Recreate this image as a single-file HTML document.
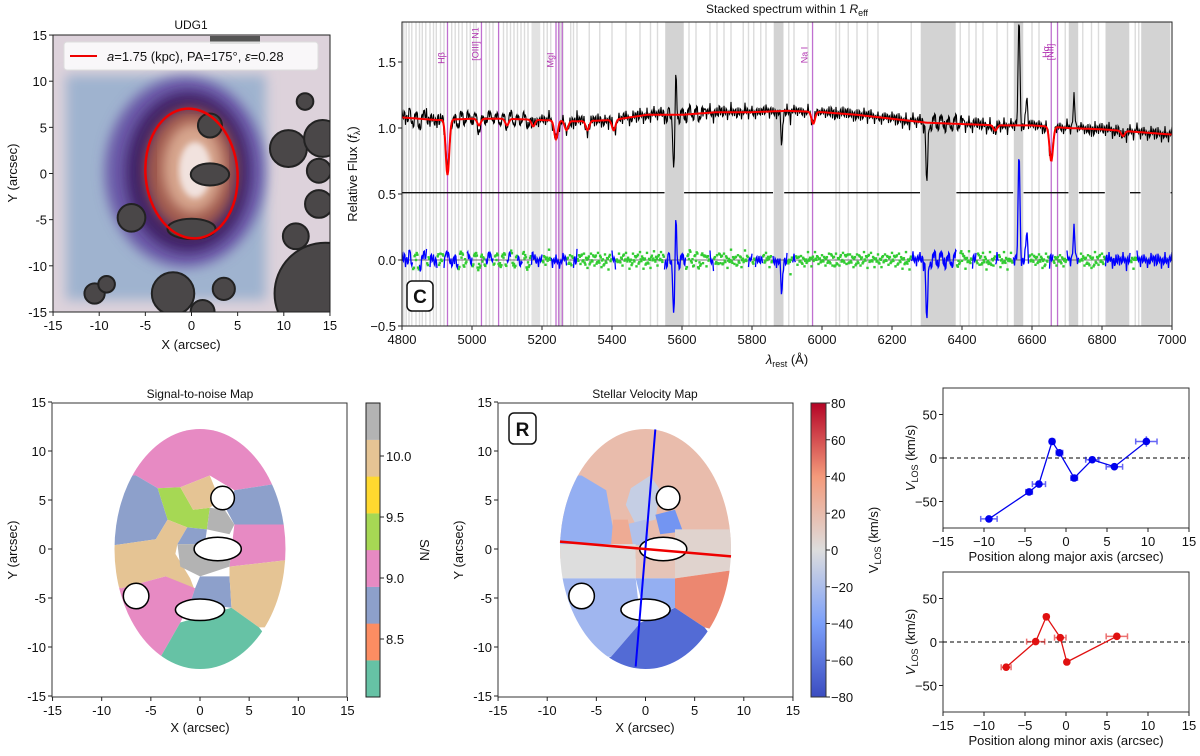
<!DOCTYPE html>
<html><head><meta charset="utf-8"><style>
html,body{margin:0;padding:0;background:#fff;}
svg{display:block;font-family:"Liberation Sans","DejaVu Sans",sans-serif;}
.t{font-size:13px;fill:#111}
.s{font-size:12px;fill:#111}
</style></head><body>
<svg id="fig" width="1200" height="756" viewBox="0 0 1200 756" xmlns="http://www.w3.org/2000/svg">
<defs>
<filter id="blur3"><feGaussianBlur stdDeviation="3"/></filter>
<filter id="blur6"><feGaussianBlur stdDeviation="6"/></filter>
<clipPath id="imgclip"><rect x="53" y="35" width="277" height="277"/></clipPath>
<clipPath id="snclip"><ellipse cx="200" cy="549" rx="85.5" ry="120"/></clipPath>
<clipPath id="vclip"><ellipse cx="645.5" cy="549" rx="85.5" ry="120"/></clipPath>
<clipPath id="specclip"><rect x="402" y="22" width="770" height="304"/></clipPath>
<linearGradient id="cw" x1="0" y1="1" x2="0" y2="0">
<stop offset="0" stop-color="#3b4cc0"/><stop offset="0.25" stop-color="#7b9ff9"/><stop offset="0.5" stop-color="#dddddd"/><stop offset="0.75" stop-color="#f49a7b"/><stop offset="1" stop-color="#b40426"/>
</linearGradient>
</defs>

<g id="gImg" clip-path="url(#imgclip)">
<rect x="53" y="35" width="277" height="277" fill="#ddd2db"/>
<rect x="66" y="75" width="200" height="225" fill="#9fb3cf" filter="url(#blur6)"/>
<ellipse cx="185" cy="172" rx="80" ry="95" fill="#6a5aa8" filter="url(#blur6)"/>
<ellipse cx="188" cy="172" rx="62" ry="80" fill="#3f2466" filter="url(#blur6)"/>
<ellipse cx="191" cy="170" rx="46" ry="62" fill="#a05a4e" filter="url(#blur6)"/>
<ellipse cx="193" cy="168" rx="30" ry="45" fill="#d7a68e" filter="url(#blur6)"/>
<ellipse cx="195" cy="170" rx="16" ry="28" fill="#f1e2de" filter="url(#blur3)"/>
<rect x="210" y="36" width="50" height="8" fill="#555"/>
<g id="gBlobs"></g>
</g>
<rect x="53" y="35" width="277" height="277" fill="none" stroke="#222" stroke-width="1"/>
<ellipse cx="191.5" cy="173.5" rx="46" ry="65" fill="none" stroke="#e00" stroke-width="2.5" transform="rotate(-5 191.5 173.5)"/>
<g>
<rect x="64" y="42" width="254" height="28" rx="3" fill="#fff" fill-opacity="0.82" stroke="#ddd"/>
<line x1="70" y1="56" x2="97" y2="56" stroke="#e00" stroke-width="2"/>
<text x="107" y="61" class="t" font-size="13"><tspan font-style="italic">a</tspan>=1.75 (kpc), PA=175°, <tspan font-style="italic">ε</tspan>=0.28</text>
</g>
<text x="191" y="29" text-anchor="middle" class="s">UDG1</text>
<g id="gImgAxes"></g>
<text x="191" y="349" text-anchor="middle" class="t">X (arcsec)</text>
<text transform="translate(17 173) rotate(-90)" text-anchor="middle" class="t">Y (arcsec)</text>

<g>
<g id="gSpecBands" clip-path="url(#specclip)"></g>
<g id="gSpecLines" clip-path="url(#specclip)"></g>
<rect x="402" y="22" width="770" height="304" fill="none" stroke="#222"/>
<g id="gSpecAxes"></g>
</g>
<text x="787" y="13" text-anchor="middle" class="s">Stacked spectrum within 1 <tspan font-style="italic">R</tspan><tspan font-size="9" dy="3">eff</tspan></text>
<text x="787" y="364" text-anchor="middle" class="t"><tspan font-style="italic">λ</tspan><tspan font-size="9" dy="3">rest</tspan><tspan dy="-3"> (Å)</tspan></text>
<text transform="translate(357 174) rotate(-90)" text-anchor="middle" class="t">Relative Flux (<tspan font-style="italic">f</tspan><tspan font-size="9" dy="3">λ</tspan><tspan dy="-3">)</tspan></text>
<g>
<rect x="407" y="281" width="26" height="30" rx="5" fill="#fff" stroke="#111" stroke-width="1.5"/>
<text x="420" y="303" text-anchor="middle" font-size="19" font-weight="bold" fill="#111">C</text>
</g>

<g id="gSnMap" clip-path="url(#snclip)"></g>
<g id="gSnHoles"></g>
<rect x="52" y="403" width="295" height="294" fill="none" stroke="#333"/>
<g id="gSnAxes"></g>
<text x="200" y="398" text-anchor="middle" class="s">Signal-to-noise Map</text>
<text x="200" y="732" text-anchor="middle" class="t">X (arcsec)</text>
<text transform="translate(17 550) rotate(-90)" text-anchor="middle" class="t">Y (arcsec)</text>
<g id="gSnBar"></g>
<text transform="translate(420 550) rotate(90)" text-anchor="middle" class="t">S/N</text>

<g id="gVMap" clip-path="url(#vclip)"></g>
<g id="gVHoles"></g>
<rect x="498" y="403" width="295" height="294" fill="none" stroke="#333"/>
<g id="gVAxes"></g>
<text x="645" y="398" text-anchor="middle" class="s">Stellar Velocity Map</text>
<text x="645" y="732" text-anchor="middle" class="t">X (arcsec)</text>
<text transform="translate(463 550) rotate(-90)" text-anchor="middle" class="t">Y (arcsec)</text>
<g>
<rect x="509" y="413" width="27" height="31" rx="5" fill="#fff" stroke="#111" stroke-width="1.5"/>
<text x="522.5" y="436" text-anchor="middle" font-size="19" font-weight="bold" fill="#111">R</text>
</g>
<rect x="811" y="403" width="15" height="294" fill="url(#cw)" stroke="#333"/>
<g id="gVBar"></g>
<text transform="translate(878 540) rotate(-90)" text-anchor="middle" class="t">V<tspan font-size="9" dy="3">LOS</tspan><tspan dy="-3"> (km/s)</tspan></text>

<g id="gProf"></g>
<text x="1066" y="561" text-anchor="middle" class="t">Position along major axis (arcsec)</text>
<text x="1066" y="745" text-anchor="middle" class="t">Position along minor axis (arcsec)</text>
<text transform="translate(915 458) rotate(-90)" text-anchor="middle" class="t"><tspan font-style="italic">V</tspan><tspan font-size="9" dy="3">LOS</tspan><tspan dy="-3"> (km/s)</tspan></text>
<text transform="translate(915 642) rotate(-90)" text-anchor="middle" class="t"><tspan font-style="italic">V</tspan><tspan font-size="9" dy="3">LOS</tspan><tspan dy="-3"> (km/s)</tspan></text>
</svg>
<script>
var contW = [4800,4900,5000,5100,5200,5300,5400,5500,5600,5700,5800,5900,6000,6100,6200,6300,6400,6500,6600,6700,6800,6900,7000];
var contF = [1.08,1.06,1.07,1.07,1.06,1.05,1.06,1.10,1.10,1.12,1.12,1.13,1.12,1.10,1.07,1.04,1.03,1.02,1.02,1.00,0.99,0.97,0.95];
var absW = [4930,5020,5100,5175,5240,5270,5330,5405,5975,6495,6655,6860];
var absD = [0.42,0.05,0.05,0.05,0.14,0.07,0.07,0.08,0.09,0.04,0.26,0.04];
var resid = [5,-3,8,-6,2,-9,4,7,-4,3,-7,6,-2,9,-5,3,-8,5,-3,6,-4,
7,-9,3,-5,8,-2,4,-6,5,-3,9,-7,2,-4,6,-8,3,5,-6,4,
-3,7,-5,2,-8,6,-4,3,-6,8,-2,5,-7,4,-3,6,-5,2,-4,7,
-6,3,-2,5,-7,4,-3,6,-5,2,-4,7,-3,5,-6,3,-2,4,-5,3,
-4,6,-3,2,-5,4,-2,5,-6,3,-2,4,-5,6,-3,2,-4,5,-3,4,
-5,3,-2,6,-4,3,-7,5,-3,4,-9,6,-3,2,-5,4,-3,5,-2,3,
-4,5,-3,2,-4,6,-2,3,-5,4,-3,5,-2,4,-3,2,-4,3,-2,5,
-3,4,-5,3,-6,7,-4,5,-8,6,-5,4,-3,6,-4,3,-6,5,-3,7,
-5,4,-3,6,-4,5,-7,3,-5,6,-4,3,-6,5,-3,4,-8,6,-4,5,
-3,4,-6,3,-2,5,-4,3,-5,6,-3,4,-2,5,-4,3,-6,4,-3,5,
-5,6,-7,4,-3,5,-6,4,-5,7,-4,3,-6,5,-3,4,-5,3,-4,6,-2];
var spikeW = [5577,5582,5885,6300,6563,6585,6720];
var spikeA = [-0.5,0.3,-0.28,-0.5,0.85,0.2,0.22];
var darkBands = [[5552,5605],[5862,5890],[6282,6382],[6548,6575],[6705,6732],[6810,6878],[6912,6995]];
var lightBands = [[5170,5195],[5245,5262]];
var thinLines = [4805,4812,4820,4828,4840,4850,4858,4868,4880,4890,4898,4910,4920,4942,4952,4962,4972,4985,4995,5005,5012,5040,5050,5060,5090,5100,5110,5120,5130,5140,5150,5160,5205,5215,5225,5282,5290,5300,5335,5365,5400,5440,5480,5510,5530,5620,5640,5680,5700,5720,5740,5775,5790,5805,5825,5840,5905,5920,5960,6040,6050,6075,6100,6130,6160,6255,6395,6420,6440,6460,6500,6530,6600,6620,6695,6745,6770,6790,6895,6905];
var magLines = [4930,5027,5076,5240,5248,5258,5973,6655,6673];
var magLabels = [["Hβ",4922,58],["[OIII] N1",5018,44],["MgI",5233,60],["Na I",5958,55],["Hα",6648,52],["[NII]",6661,52]];
var maskRanges = [[4800,4830],[4850,4870],[4880,4900],[4920,4960],[4985,5000],[5040,5060],[5100,5110],[5130,5145],[5170,5200],[5225,5270],[5290,5300],[5400,5410],[5550,5610],[5680,5690],[5790,5800],[5810,5830],[5860,5900],[5915,5925],[6255,6385],[6430,6440],[6495,6505],[6545,6590],[6650,6660],[6700,6735],[6810,6880],[6900,7000]];
var specXTicks = [4800,5000,5200,5400,5600,5800,6000,6200,6400,6600,6800,7000];
var specYTicks = [-0.5,0,0.5,1.0,1.5];
var specYLabels = ["−0.5","0.0","0.5","1.0","1.5"];

var snColors = ["#66c2a5","#fc8d62","#8da0cb","#e78ac3","#a6d854","#ffd92f","#e5c494","#b3b3b3"];
var snTicks = [8.5,9.0,9.5,10.0];
var snBins = [
 {v:3,p:[[-10,13],[10,13],[10,7],[3.5,6],[1,7.5],[-2,6.3],[-4.3,6.2],[-6.5,7.5],[-10,7.5]]},
 {v:2,p:[[-10,7.5],[-6.5,7.5],[-4.3,6.2],[-3.3,3],[-4.5,1],[-10,0.2]]},
 {v:4,p:[[-4.3,6.2],[-2,6.3],[-0.7,4],[1,4.2],[0.7,2],[-1.3,2.2],[-3.3,3]]},
 {v:6,p:[[-2,6.3],[1,7.5],[2,5],[1,4.2],[-0.7,4]]},
 {v:2,p:[[3.5,6],[10,7],[10,2.5],[3.5,2.5],[2.7,4]]},
 {v:7,p:[[1,4.2],[2.5,4],[3.5,2.5],[3,1.5],[0.7,2]]},
 {v:3,p:[[3.5,2.5],[10,2.5],[10,-1],[3,-1.8],[3.2,0]]},
 {v:6,p:[[-10,0.2],[-4.5,1],[-3.3,3],[-1.3,2.2],[-2.3,0.5],[-2.5,-0.5],[-1,-3],[-0.5,-4.3],[-3.5,-2.8],[-8,-4],[-10,-3.5]]},
 {v:2,p:[[-1.3,2.2],[0.7,2],[0.5,0.5],[-2.3,0.5]]},
 {v:7,p:[[-2.3,0.5],[0.5,0.5],[3.2,0],[3,-1.8],[0,-2.8],[-2,-1.8]]},
 {v:2,p:[[0,-2.8],[3,-2.8],[3.2,-6],[-1,-5.5],[-0.5,-4]]},
 {v:6,p:[[3,-1.8],[10,-1],[10,-8],[6,-8],[3.2,-6],[3,-2.8]]},
 {v:3,p:[[-10,-3.5],[-8,-4],[-3.5,-2.8],[-0.5,-4],[-1,-5.5],[-2,-7.5],[-4,-11],[-10,-11]]},
 {v:0,p:[[-4,-11],[-2,-7.5],[3.2,-6],[6,-8],[10,-13],[-10,-13]]}
];
var velBins = [
 {v:20,p:[[-10,13],[10,13],[10,-1],[-10,-1]]},
 {v:-30,p:[[-10,7.5],[-6.5,7.5],[-4,6],[-3.3,2],[-3.5,0.5],[-10,0.5]]},
 {v:-10,p:[[-1.5,6.2],[0.5,7.5],[1.5,6],[1,3],[-1,2.5],[-2,4.5]]},
 {v:-18,p:[[-2,2.5],[0,3],[0.5,0.5],[-1.5,0.3]]},
 {v:30,p:[[-3.3,3],[-1.8,3],[-1.3,0.5],[-3.5,0.5]]},
 {v:-45,p:[[1,3.5],[3,4],[3.8,1.8],[1.5,1.5]]},
 {v:6,p:[[3,2],[10,2],[10,-2],[3,-3]]},
 {v:0,p:[[-10,0.5],[-1,0.5],[-1,-3],[-10,-3]]},
 {v:15,p:[[-1,0.4],[3,0.2],[3,-3],[-1,-3]]},
 {v:-25,p:[[-10,-3],[-1,-3],[-0.5,-7.5],[-3.5,-11],[-10,-11]]},
 {v:-30,p:[[-1,-3],[3,-3],[3,-6],[0,-7]]},
 {v:45,p:[[3,-3],[10,-2],[10,-9],[6,-8],[3,-6]]},
 {v:-65,p:[[-3.5,-11],[-0.5,-7.5],[3,-6],[6,-8],[10,-13],[-10,-13]]}
];
var holeX = [2.3,1.8,-6.5,0];
var holeY = [5.2,0,-4.8,-6.2];
var holeRX = [1.2,2.4,1.3,2.5];
var holeRY = [1.2,1.2,1.3,1.1];
var velTicks = [-80,-60,-40,-20,0,20,40,60,80];
var velLabels = ["−80","−60","−40","−20","0","20","40","60","80"];
var mapTicks = [-15,-10,-5,0,5,10,15];
var mapTickLabels = ["-15","-10","-5","0","5","10","15"];

var majX = [-9.4,-4.5,-3.3,-1.7,-0.8,1.0,3.2,5.9,9.8];
var majV = [-70,-39,-30,19,6,-23,-2,-10,19];
var majXErr = [1.0,0.4,0.8,0.3,0.4,0.4,0.8,1.0,1.3];
var majVErr = [2,2,2,2,2,3,2,2,6];
var minX = [-7.3,-3.7,-2.4,-0.7,0.1,6.2];
var minV = [-29,0.5,29,5,-23,6.5];
var minXErr = [0.6,1.1,0.3,0.7,0.2,1.3];
var minVErr = [2,2,4,2,2,2];
var profXTicks = [-15,-10,-5,0,5,10,15];
var profXLabels = ["−15","−10","−5","0","5","10","15"];
var profYTicks = [-50,0,50];
var profYLabels = ["−50","0","50"];

var starX = [2,2,0,-6.5,12.3,10.5,14.2,13.8,13.8,11.3,14.5,-2,3.5,-10.5,-9.2,1.2];
var starY = [5.2,-0.1,-6,-4.8,7.8,2.7,3.8,0.3,-3.3,-6.8,-13,-13,-12.5,-13,-12,-15];
var starR = [1.3,1.6,2,1.5,0.9,2,2,1.3,1.5,1.4,5.5,2.3,1.2,1.1,0.9,1.3];

(function(){
var SVGNS = "http://www.w3.org/2000/svg";
function mkEl(tag, parent){ var e=document.createElementNS(SVGNS,tag); parent.appendChild(e); return e; }
function byId(id){ return document.getElementById(id); }
function safe(fn){ try{ fn(); }catch(err){ if(window.console) console.log(err); } }

function axesBox(g, x0, y0, w, h, xt, xl, yt, yl, fx, fy){
  xt.forEach(function(t,i){
    var l = mkEl("line", g);
    
    
    l.setAttribute("x1", fx(t)); l.setAttribute("x2", fx(t)); l.setAttribute("y1", y0+h); l.setAttribute("y2", y0+h+4); l.setAttribute("stroke","#222");
    var tx = mkEl("text", g);
    
    
    tx.setAttribute("x", fx(t)); tx.setAttribute("y", y0+h+18); tx.setAttribute("text-anchor","middle"); tx.setAttribute("class","t"); tx.textContent = xl[i];
  });
  yt.forEach(function(t,i){
    var l = mkEl("line", g);
    
    
    l.setAttribute("x1", x0-4); l.setAttribute("x2", x0); l.setAttribute("y1", fy(t)); l.setAttribute("y2", fy(t)); l.setAttribute("stroke","#222");
    var tx = mkEl("text", g);
    
    
    tx.setAttribute("x", x0-6); tx.setAttribute("y", fy(t)+5); tx.setAttribute("text-anchor","end"); tx.setAttribute("class","t"); tx.textContent = yl[i];
  });
}

var ix = function(a){ return 191.5 + a*9.23; }, iy = function(a){ return 173.5 - a*9.23; };
safe(function(){
  var blobG = byId("gBlobs");
  starX.forEach(function(x,i){
    var c = mkEl("ellipse", blobG);
    
    
    var sxm = (i===1||i===2)?1.3:1, sym = i===2?0.55:(i===1?0.75:1);
    c.setAttribute("cx", ix(x)); c.setAttribute("cy", iy(starY[i]));
    c.setAttribute("rx", starR[i]*9.23*sxm); c.setAttribute("ry", starR[i]*9.23*sym);
    c.setAttribute("fill", "#4a4748"); c.setAttribute("stroke", "#222"); c.setAttribute("stroke-width", "2");
  });
  axesBox(byId("gImgAxes"),53,35,277,277,mapTicks,mapTickLabels,mapTicks,mapTickLabels,ix,iy);
});

var sx = function(w){ return 402 + (w-4800)*770/2200; }, sy = function(v){ return 260 - v*132; };
function cont(w){ for(var i=0;i<contW.length-1;i++){ if(w<=contW[i+1]){ var f=(w-contW[i])/(contW[i+1]-contW[i]); return contF[i]+f*(contF[i+1]-contF[i]); } } return contF[contF.length-1]; }
function model(w){ var v=cont(w); absW.forEach(function(c,i){ v -= absD[i]*Math.exp(-Math.pow((w-c)/7,2)); }); return v; }
function spike(w){ var s=0; spikeW.forEach(function(c,i){ s += spikeA[i]*Math.exp(-Math.pow((w-c)/3.5,2)); }); return s; }
function isMasked(w){ return maskRanges.some(function(r){ return w>=r[0]&&w<=r[1]; }); }

safe(function(){
  var bands = byId("gSpecBands");
  thinLines.forEach(function(w){
    var r = mkEl("rect", bands);
    
    
    r.setAttribute("x", sx(w)-0.7); r.setAttribute("y", 22); r.setAttribute("width", 1.4); r.setAttribute("height", 304); r.setAttribute("fill", "#dcdcdc");
  });
  lightBands.forEach(function(b){
    var r = mkEl("rect", bands);
    
    
    r.setAttribute("x", sx(b[0])); r.setAttribute("y", 22); r.setAttribute("width", sx(b[1])-sx(b[0])); r.setAttribute("height", 304); r.setAttribute("fill", "#e2e2e2");
  });
  darkBands.forEach(function(b){
    var r = mkEl("rect", bands);
    
    
    r.setAttribute("x", sx(b[0])); r.setAttribute("y", 22); r.setAttribute("width", sx(b[1])-sx(b[0])); r.setAttribute("height", 304); r.setAttribute("fill", "#d3d3d3");
  });
  magLines.forEach(function(w){
    var r = mkEl("line", bands);
    
    
    r.setAttribute("x1", sx(w)); r.setAttribute("x2", sx(w)); r.setAttribute("y1", 22); r.setAttribute("y2", 326); r.setAttribute("stroke", "#c070d0"); r.setAttribute("stroke-width", "1.3");
  });
  magLabels.forEach(function(m){
    var t = mkEl("text", bands);
    
    
    t.setAttribute("transform", "translate(" + sx(m[1]) + " " + m[2] + ") rotate(-90)"); t.setAttribute("text-anchor","middle"); t.setAttribute("font-size","9"); t.setAttribute("fill","#b030b0"); t.textContent = m[0];
  });
});

safe(function(){
  var sl = byId("gSpecLines");
  var z = mkEl("line", sl);
  
  
  z.setAttribute("x1",402); z.setAttribute("x2",1172); z.setAttribute("y1",sy(0)); z.setAttribute("y2",sy(0)); z.setAttribute("stroke","#444"); z.setAttribute("stroke-width","0.8");
  var gp = "", prevIn = true;
  for(var w=4800; w<=7000; w+=2){
    var inb = darkBands.some(function(b){ return w>=b[0]&&w<=b[1]; });
    if(!inb){ gp += (prevIn?"M":"L")+sx(w).toFixed(1)+" "+sy(0.51)+" "; }
    prevIn = inb;
  }
  var gpl = mkEl("path", sl);
  
  
  gpl.setAttribute("d", gp); gpl.setAttribute("stroke","#111"); gpl.setAttribute("fill","none"); gpl.setAttribute("stroke-width","1.4");
  var dObs="", dMod="", dRes="", started=false, green=[];
  for(var w2=4800; w2<=7000; w2+=2){
    var k = (w2-4800)/10, i0 = Math.floor(k), f=k-i0;
    var r0 = resid[Math.min(i0,resid.length-1)], r1 = resid[Math.min(i0+1,resid.length-1)];
    var ii = Math.round(k*3)%resid.length;
    var r = ((1-f)*r0 + f*r1)*0.6/100 + resid[ii]*0.6/100 + spike(w2);
    var m = model(w2);
    dObs += (w2===4800?"M":"L")+sx(w2).toFixed(1)+" "+sy(m+r).toFixed(1)+" ";
    dMod += (w2===4800?"M":"L")+sx(w2).toFixed(1)+" "+sy(m).toFixed(1)+" ";
    if(isMasked(w2)){ dRes += (started?"L":"M")+sx(w2).toFixed(1)+" "+sy(r).toFixed(1)+" "; started=true; }
    else { started=false; green.push([w2,r]); }
  }
  var pObs = mkEl("path", sl);
  
  
  pObs.setAttribute("d", dObs); pObs.setAttribute("stroke","#000"); pObs.setAttribute("fill","none"); pObs.setAttribute("stroke-width","1.1");
  var pMod = mkEl("path", sl);
  
  
  pMod.setAttribute("d", dMod); pMod.setAttribute("stroke","#f00"); pMod.setAttribute("fill","none"); pMod.setAttribute("stroke-width","2");
  green.forEach(function(g){
    var c = mkEl("rect", sl);
    
    
    c.setAttribute("x", sx(g[0])-1.2); c.setAttribute("y", sy(g[1])-1.2); c.setAttribute("width",2.4); c.setAttribute("height",2.4); c.setAttribute("fill","#3c3");
  });
  var pRes = mkEl("path", sl);
  
  
  pRes.setAttribute("d", dRes); pRes.setAttribute("stroke","#00f"); pRes.setAttribute("fill","none"); pRes.setAttribute("stroke-width","1.3");
  axesBox(byId("gSpecAxes"),402,22,770,304,specXTicks,specXTicks.map(String),specYTicks,specYLabels,sx,sy);
});

var mx = function(a){ return 200 + a*9.83; }, my = function(a){ return 549 - a*9.8; }, vx = function(a){ return 645.5 + a*9.83; };
function vcol(v){
  var stops=[[-80,[59,76,192]],[-40,[123,159,249]],[0,[221,221,221]],[40,[244,154,123]],[80,[180,4,38]]];
  for(var i=0;i<stops.length-1;i++){ if(v<=stops[i+1][0]){ var f=(v-stops[i][0])/(stops[i+1][0]-stops[i][0]); var c=stops[i][1].map(function(x,j){ return Math.round(x+f*(stops[i+1][1][j]-x)); }); return "rgb("+c.join(",")+")"; } }
  return "rgb(180,4,38)";
}
safe(function(){
  snBins.forEach(function(b){
    var p = mkEl("polygon", byId("gSnMap"));
    
    
    p.setAttribute("points", b.p.map(function(q){ return mx(q[0]).toFixed(1)+","+my(q[1]).toFixed(1); }).join(" ")); p.setAttribute("fill", snColors[b.v]);
  });
  velBins.forEach(function(b){
    var p = mkEl("polygon", byId("gVMap"));
    
    
    p.setAttribute("points", b.p.map(function(q){ return vx(q[0]).toFixed(1)+","+my(q[1]).toFixed(1); }).join(" ")); p.setAttribute("fill", vcol(b.v));
  });
  [["gSnHoles",mx],["gVHoles",vx]].forEach(function(pair){
    var fx = pair[1], gg = byId(pair[0]);
    holeX.forEach(function(x,i){
      var e = mkEl("ellipse", gg);
      
      
      e.setAttribute("cx", fx(x)); e.setAttribute("cy", my(holeY[i])); e.setAttribute("rx", holeRX[i]*9.83); e.setAttribute("ry", holeRY[i]*9.8);
      e.setAttribute("fill","#fff"); e.setAttribute("stroke","#000"); e.setAttribute("stroke-width","1.5");
    });
  });
  var majLine = mkEl("line", byId("gVHoles"));
  
  
  majLine.setAttribute("x1", vx(1)); majLine.setAttribute("y1", my(12.2)); majLine.setAttribute("x2", vx(-1)); majLine.setAttribute("y2", my(-12)); majLine.setAttribute("stroke","#00f"); majLine.setAttribute("stroke-width","2");
  var minLine = mkEl("line", byId("gVHoles"));
  
  
  minLine.setAttribute("x1", vx(-8.7)); minLine.setAttribute("y1", my(0.75)); minLine.setAttribute("x2", vx(8.7)); minLine.setAttribute("y2", my(-0.75)); minLine.setAttribute("stroke","#e00"); minLine.setAttribute("stroke-width","2.5");
  axesBox(byId("gSnAxes"),52,403,295,294,mapTicks,mapTickLabels,mapTicks,mapTickLabels,mx,my);
  axesBox(byId("gVAxes"),498,403,295,294,mapTicks,mapTickLabels,mapTicks,mapTickLabels,vx,my);
});

safe(function(){
  var snbarG = byId("gSnBar");
  snColors.forEach(function(c,i){
    var r = mkEl("rect", snbarG);
    
    
    r.setAttribute("x",366); r.setAttribute("y", 697-(i+1)*36.75); r.setAttribute("width",14); r.setAttribute("height",36.9); r.setAttribute("fill",c);
  });
  var snFrame = mkEl("rect", snbarG);
  
  
  snFrame.setAttribute("x",366); snFrame.setAttribute("y",403); snFrame.setAttribute("width",14); snFrame.setAttribute("height",294); snFrame.setAttribute("fill","none"); snFrame.setAttribute("stroke","#222");
  var sncy = function(v){ return 578 - (v-9.0)*122; };
  snTicks.forEach(function(t){
    var l = mkEl("line", snbarG);
    
    
    l.setAttribute("x1",380); l.setAttribute("x2",384); l.setAttribute("y1",sncy(t)); l.setAttribute("y2",sncy(t)); l.setAttribute("stroke","#222");
    var tx = mkEl("text", snbarG);
    
    
    tx.setAttribute("x",386); tx.setAttribute("y",sncy(t)+5); tx.setAttribute("class","t"); tx.textContent = t.toFixed(1);
  });
  var vcy = function(v){ return 550 - v*147/80; };
  velTicks.forEach(function(t,i){
    var l = mkEl("line", byId("gVBar"));
    
    
    l.setAttribute("x1",826); l.setAttribute("x2",830); l.setAttribute("y1",vcy(t)); l.setAttribute("y2",vcy(t)); l.setAttribute("stroke","#222");
    var tx = mkEl("text", byId("gVBar"));
    
    
    tx.setAttribute("x",831); tx.setAttribute("y",vcy(t)+5); tx.setAttribute("class","t"); tx.textContent = velLabels[i];
  });
});

var rx = function(a){ return 1066 + a*8.2; };
function profile(y0, y1, xs, vs, xe, ve, color, name){
  var g = mkEl("g", byId("gProf"));
  
  
  var zero = (y0+y1)/2, fy = function(v){ return zero - v*0.87; };
  var fr = mkEl("rect", g);
  
  
  fr.setAttribute("x",943); fr.setAttribute("y",y0); fr.setAttribute("width",246); fr.setAttribute("height",y1-y0); fr.setAttribute("fill","none"); fr.setAttribute("stroke","#333");
  var zl = mkEl("line", g);
  
  
  zl.setAttribute("x1",943); zl.setAttribute("x2",1189); zl.setAttribute("y1",fy(0)); zl.setAttribute("y2",fy(0)); zl.setAttribute("stroke","#000"); zl.setAttribute("stroke-dasharray","4 3");
  axesBox(g,943,y0,246,y1-y0,profXTicks,profXLabels,profYTicks,profYLabels,rx,fy);
  var pl = mkEl("polyline", g);
  
  
  pl.setAttribute("points", xs.map(function(x,i){ return rx(x).toFixed(1)+","+fy(vs[i]).toFixed(1); }).join(" ")); pl.setAttribute("fill","none"); pl.setAttribute("stroke",color); pl.setAttribute("stroke-width","1.3");
  xs.forEach(function(x,i){
    var eb = mkEl("path", g);
    
    
    var cx=rx(x), cy=fy(vs[i]), dx=xe[i]*8.2, dy=ve[i]*0.87;
    eb.setAttribute("d", "M"+(cx-dx)+" "+cy+"H"+(cx+dx)+"M"+(cx-dx)+" "+(cy-3)+"V"+(cy+3)+"M"+(cx+dx)+" "+(cy-3)+"V"+(cy+3)+"M"+cx+" "+(cy-dy)+"V"+(cy+dy));
    eb.setAttribute("stroke",color); eb.setAttribute("stroke-opacity","0.6"); eb.setAttribute("stroke-width","1.5"); eb.setAttribute("fill","none");
    var c = mkEl("circle", g);
    
    
    c.setAttribute("cx",cx); c.setAttribute("cy",cy); c.setAttribute("r",3.8); c.setAttribute("fill",color);
  });
}
safe(function(){ profile(388,528,majX,majV,majXErr,majVErr,"#0000ee","major-axis-profile"); });
safe(function(){ profile(572,712,minX,minV,minXErr,minVErr,"#e01010","minor-axis-profile"); });
})();
</script>
</body></html>
